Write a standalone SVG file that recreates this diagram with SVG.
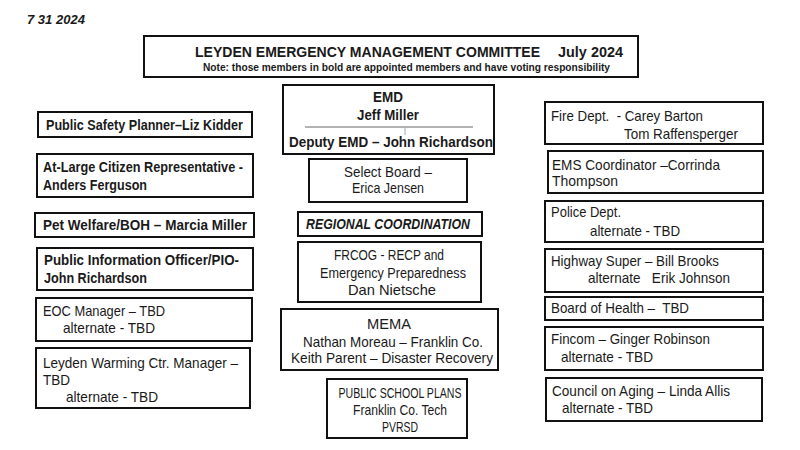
<svg xmlns="http://www.w3.org/2000/svg" width="800" height="450" viewBox="0 0 800 450">
<style>
.box{fill:#fff;stroke:#111;stroke-width:2}
.t{font-family:"Liberation Sans",Arial,sans-serif;font-size:14.5px;fill:#1a1a1a}
.b{font-weight:bold}
.c{text-anchor:middle}
</style>
<rect width="800" height="450" fill="#fff"/>
<text x="27" y="24" class="t b" style="font-style:italic;font-size:13px" textLength="58" lengthAdjust="spacingAndGlyphs">7 31 2024</text>
<g id="title">
<rect class="box" x="144" y="36" width="494" height="41"/>
<text x="195" y="57" class="t b" style="font-size:15px" textLength="345" lengthAdjust="spacingAndGlyphs">LEYDEN EMERGENCY MANAGEMENT COMMITTEE</text>
<text x="558" y="57" class="t b" style="font-size:15px" textLength="65" lengthAdjust="spacingAndGlyphs">July 2024</text>
<text x="203" y="71" class="t b" style="font-size:10px" textLength="407" lengthAdjust="spacingAndGlyphs">Note: those members in bold are appointed members and have voting responsibility</text>
</g>
<g id="connectors"></g>
<g id="public-safety-planner">
<rect class="box" x="38" y="112" width="214" height="25"/>
<text x="46" y="129.5" class="t b" textLength="197" lengthAdjust="spacingAndGlyphs">Public Safety Planner–Liz Kidder</text>
</g>
<g id="at-large">
<rect class="box" x="37" y="154" width="216" height="43"/>
<text x="43" y="172" class="t b" textLength="200" lengthAdjust="spacingAndGlyphs">At-Large Citizen Representative -</text>
<text x="43" y="190" class="t b" textLength="104" lengthAdjust="spacingAndGlyphs">Anders Ferguson</text>
</g>
<g id="pet-welfare">
<rect class="box" x="35" y="213" width="219" height="24"/>
<text x="43" y="230" class="t b" textLength="204" lengthAdjust="spacingAndGlyphs">Pet Welfare/BOH – Marcia Miller</text>
</g>
<g id="pio">
<rect class="box" x="37" y="248" width="216" height="42"/>
<text x="44" y="265" class="t b" textLength="195" lengthAdjust="spacingAndGlyphs">Public Information Officer/PIO-</text>
<text x="44" y="283" class="t b" textLength="103" lengthAdjust="spacingAndGlyphs">John Richardson</text>
</g>
<g id="eoc-manager">
<rect class="box" x="36" y="298" width="216" height="43"/>
<text x="43" y="316" class="t" textLength="122" lengthAdjust="spacingAndGlyphs">EOC Manager – TBD</text>
<text x="63" y="333" class="t" textLength="92" lengthAdjust="spacingAndGlyphs">alternate - TBD</text>
</g>
<g id="warming-center">
<rect class="box" x="36" y="348" width="214" height="60"/>
<text x="43" y="368" class="t" textLength="195" lengthAdjust="spacingAndGlyphs">Leyden Warming Ctr. Manager –</text>
<text x="43" y="385" class="t" textLength="27" lengthAdjust="spacingAndGlyphs">TBD</text>
<text x="66" y="402" class="t" textLength="92" lengthAdjust="spacingAndGlyphs">alternate - TBD</text>
</g>
<g id="emd">
<rect class="box" x="283" y="85" width="211" height="69"/>
<text x="388" y="102" class="t b c" textLength="30" lengthAdjust="spacingAndGlyphs">EMD</text>
<text x="388" y="120" class="t b c" textLength="62" lengthAdjust="spacingAndGlyphs">Jeff Miller</text>
<line x1="305" y1="127" x2="473" y2="127" stroke="#666" stroke-width="1"/>
<line x1="405" y1="127" x2="405" y2="135" stroke="#9ab" stroke-width="1"/>
<text x="391" y="147" class="t b c" textLength="204" lengthAdjust="spacingAndGlyphs">Deputy EMD – John Richardson</text>
</g>
<g id="select-board">
<rect class="box" x="309" y="159" width="158" height="43"/>
<text x="388" y="177" class="t c" textLength="88" lengthAdjust="spacingAndGlyphs">Select Board –</text>
<text x="388" y="193" class="t c" textLength="72" lengthAdjust="spacingAndGlyphs">Erica Jensen</text>
</g>
<g id="regional-coordination">
<rect class="box" x="298" y="212" width="184" height="24"/>
<text x="388" y="229" class="t b c" style="font-style:italic" textLength="164" lengthAdjust="spacingAndGlyphs">REGIONAL COORDINATION</text>
</g>
<g id="frcog">
<rect class="box" x="298" y="242" width="183" height="60"/>
<text x="389" y="260" class="t c" textLength="110" lengthAdjust="spacingAndGlyphs">FRCOG - RECP and</text>
<text x="393" y="278" class="t c" textLength="146" lengthAdjust="spacingAndGlyphs">Emergency Preparedness</text>
<text x="392" y="295" class="t c" textLength="88" lengthAdjust="spacingAndGlyphs">Dan Nietsche</text>
</g>
<g id="mema">
<rect class="box" x="281" y="309" width="217" height="61"/>
<text x="389" y="329" class="t c" textLength="44" lengthAdjust="spacingAndGlyphs">MEMA</text>
<text x="393" y="347" class="t c" textLength="180" lengthAdjust="spacingAndGlyphs">Nathan Moreau – Franklin Co.</text>
<text x="392" y="363" class="t c" textLength="202" lengthAdjust="spacingAndGlyphs">Keith Parent – Disaster Recovery</text>
</g>
<g id="public-school-plans">
<rect class="box" x="327" y="379" width="140" height="59"/>
<text x="400" y="398" class="t c" textLength="123" lengthAdjust="spacingAndGlyphs">PUBLIC SCHOOL PLANS</text>
<text x="400" y="415" class="t c" textLength="94" lengthAdjust="spacingAndGlyphs">Franklin Co. Tech</text>
<text x="400" y="432" class="t c" textLength="36" lengthAdjust="spacingAndGlyphs">PVRSD</text>
</g>
<g id="fire-dept">
<rect class="box" x="545" y="102" width="218" height="42"/>
<text x="551" y="121" class="t" xml:space="preserve" textLength="152" lengthAdjust="spacingAndGlyphs">Fire Dept.  - Carey Barton</text>
<text x="624" y="139" class="t" textLength="114" lengthAdjust="spacingAndGlyphs">Tom Raffensperger</text>
</g>
<g id="ems-coordinator">
<rect class="box" x="548" y="151" width="215" height="42"/>
<text x="552" y="170" class="t" textLength="168" lengthAdjust="spacingAndGlyphs">EMS Coordinator –Corrinda</text>
<text x="552" y="186" class="t" textLength="66" lengthAdjust="spacingAndGlyphs">Thompson</text>
</g>
<g id="police-dept">
<rect class="box" x="545" y="201" width="218" height="41"/>
<text x="551" y="217" class="t" textLength="70" lengthAdjust="spacingAndGlyphs">Police Dept.</text>
<text x="590" y="236" class="t" textLength="90" lengthAdjust="spacingAndGlyphs">alternate - TBD</text>
</g>
<g id="highway-super">
<rect class="box" x="545" y="249" width="218" height="43"/>
<text x="551" y="266" class="t" textLength="168" lengthAdjust="spacingAndGlyphs">Highway Super – Bill Brooks</text>
<text x="588" y="283" class="t" xml:space="preserve" textLength="142" lengthAdjust="spacingAndGlyphs">alternate   Erik Johnson</text>
</g>
<g id="board-of-health">
<rect class="box" x="545" y="297" width="218" height="23"/>
<text x="551" y="313" class="t" xml:space="preserve" textLength="138" lengthAdjust="spacingAndGlyphs">Board of Health –  TBD</text>
</g>
<g id="fincom">
<rect class="box" x="545" y="327" width="218" height="43"/>
<text x="551" y="344" class="t" textLength="159" lengthAdjust="spacingAndGlyphs">Fincom – Ginger Robinson</text>
<text x="561" y="362" class="t" textLength="92" lengthAdjust="spacingAndGlyphs">alternate - TBD</text>
</g>
<g id="council-on-aging">
<rect class="box" x="546" y="378" width="216" height="43"/>
<text x="552" y="396" class="t" textLength="178" lengthAdjust="spacingAndGlyphs">Council on Aging – Linda Allis</text>
<text x="562" y="413" class="t" textLength="91" lengthAdjust="spacingAndGlyphs">alternate - TBD</text>
</g>
</svg>
